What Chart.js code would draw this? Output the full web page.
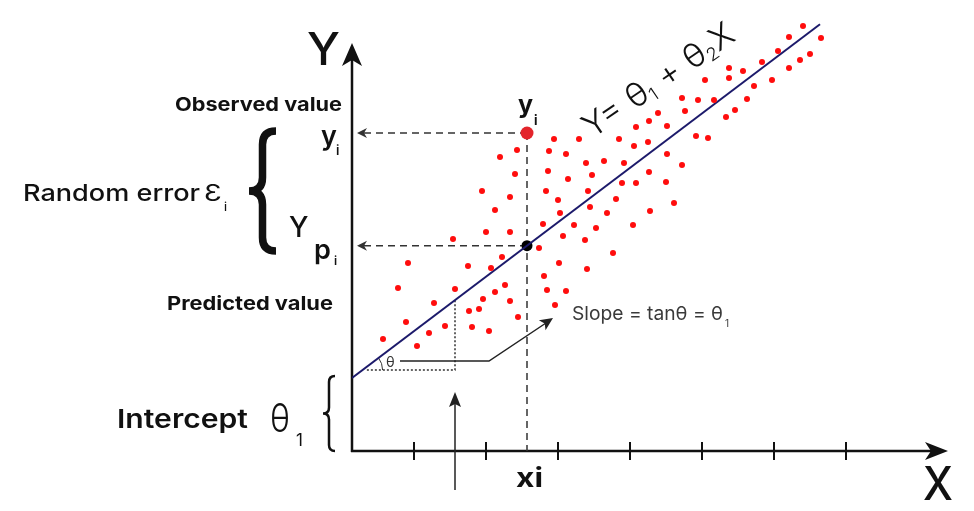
<!DOCTYPE html>
<html>
<head>
<meta charset="utf-8">
<script src="https://cdn.jsdelivr.net/npm/chart.js@4.4.0/dist/chart.umd.min.js"></script>
<style>
  html, body { margin: 0; padding: 0; background: #fff; }
  canvas { display: block; }
</style>
</head>
<body>
<canvas id="regChart" width="974" height="511"></canvas>
<script>
// scattered observations (x along the X axis, y above it, same units as the axes)
const dotX = [202, 227, 267, 284, 297, 306, 148, 165, 197, 214, 282, 296, 234, 252, 272, 163, 196, 240, 297, 216,
  270, 284, 130, 194, 236, 158, 206, 264, 143, 208, 238, 255, 298, 191, 222, 244, 281, 134, 158, 211,
  233, 101, 187, 451, 437, 469, 426, 458, 448, 410, 437, 377, 391, 377, 353, 420, 402, 330, 346, 362,
  395, 333, 383, 374, 315, 344, 356, 315, 330, 314, 322, 261, 56, 116, 139, 150, 207, 235, 46, 103,
  153, 143, 192, 195, 214, 82, 131, 158, 117, 127, 203, 166, 54, 93, 120, 137, 77, 31, 65]
const dotY = [312, 312, 312, 324, 330, 338, 294, 301, 300, 297, 305, 309, 288, 290, 288, 277, 280, 276, 279, 272,
  268, 268, 260, 260, 260, 254, 251, 252, 241, 238, 244, 238, 240, 227, 226, 223, 226, 219, 219, 215,
  211, 212, 203, 425, 414, 413, 400, 397, 391, 389, 383, 383, 380, 373, 371, 371, 365, 353, 351, 351,
  352, 340, 341, 334, 325, 315, 313, 297, 286, 269, 248, 198, 188, 185, 183, 194, 188, 182, 163, 162,
  166, 159, 175, 161, 160, 148, 152, 150, 140, 142, 146, 134, 129, 125, 124, 120, 118, 112, 105]

// fitted line Y = theta1 + theta2 * X
const theta1 = 73
const theta2 = 0.756
const lineX = [0, 468]

// highlighted observation
const xi = 175
const yObserved = 318

const xTicks = [62, 134, 206, 278, 350, 422, 494]

function predict(x) {
  return theta1 + theta2 * x
}

function put(ctx, s, x, y, font, opt) {
  opt = opt || {}
  ctx.save()
  ctx.font = font
  ctx.fillStyle = opt.color || "#111"
  ctx.textBaseline = "alphabetic"
  ctx.textAlign = "left"
  let sx = 1
  if (opt.width) sx = opt.width / ctx.measureText(s).width
  ctx.translate(x, y)
  ctx.scale(sx, 1)
  ctx.fillText(s, 0, 0)
  ctx.restore()
}

// draw several text pieces in a row (for subscripts), optionally rotated and fitted
function putRuns(ctx, parts, x, y, angle, width, color) {
  ctx.save()
  ctx.translate(x, y)
  ctx.rotate(angle)
  let total = 0
  parts.forEach((p) => {
    ctx.font = p.font
    total += ctx.measureText(p.t).width
  })
  ctx.scale(width ? width / total : 1, 1)
  ctx.fillStyle = color || "#111"
  let cx = 0
  parts.forEach((p) => {
    ctx.font = p.font
    ctx.fillText(p.t, cx, p.dy || 0)
    cx += ctx.measureText(p.t).width
  })
  ctx.restore()
}

function head(ctx, tx, ty, a, len, w, notch) {
  ctx.save()
  ctx.translate(tx, ty)
  ctx.rotate(a)
  ctx.beginPath()
  ctx.moveTo(0, 0)
  ctx.lineTo(-len, -w)
  ctx.lineTo(-len + notch, 0)
  ctx.lineTo(-len, w)
  ctx.closePath()
  ctx.fill()
  ctx.restore()
}

function brace(ctx, x0, y0, x1, y1, lw) {
  const xm = (x0 + x1) / 2
  const ym = (y0 + y1) / 2
  const r = (x1 - x0) / 2
  ctx.save()
  ctx.lineWidth = lw
  ctx.strokeStyle = "#111"
  ctx.beginPath()
  ctx.moveTo(x1, y0)
  ctx.quadraticCurveTo(xm, y0, xm, y0 + r)
  ctx.lineTo(xm, ym - r)
  ctx.quadraticCurveTo(xm, ym, x0, ym)
  ctx.quadraticCurveTo(xm, ym, xm, ym + r)
  ctx.lineTo(xm, y1 - r)
  ctx.quadraticCurveTo(xm, y1, x1, y1)
  ctx.stroke()
  ctx.restore()
}

const diagram = {
  id: "diagram",
  beforeDatasetsDraw(chart) {
    const ctx = chart.ctx
    const sx = chart.scales.x
    const sy = chart.scales.y
    const ox = sx.getPixelForValue(0)
    const oy = sy.getPixelForValue(0)
    const px = sx.getPixelForValue(xi)
    const pyObs = sy.getPixelForValue(yObserved)
    const pyPred = sy.getPixelForValue(predict(xi))

    ctx.save()
    // axes
    ctx.strokeStyle = "#111"
    ctx.fillStyle = "#111"
    ctx.lineWidth = 2.5
    ctx.beginPath()
    ctx.moveTo(ox, oy + 1)
    ctx.lineTo(ox, 55)
    ctx.moveTo(ox - 1, oy)
    ctx.lineTo(936, oy)
    ctx.stroke()
    head(ctx, ox, 43, -Math.PI / 2, 23, 10, 6)
    head(ctx, 948, oy, 0, 23, 9, 6)

    // ticks
    ctx.lineWidth = 2
    ctx.beginPath()
    xTicks.forEach((t) => {
      const x = sx.getPixelForValue(t)
      ctx.moveTo(x, oy - 9)
      ctx.lineTo(x, oy + 9)
    })
    ctx.stroke()

    // dashed guides from the observed / predicted points
    ctx.strokeStyle = "#333"
    ctx.fillStyle = "#333"
    ctx.lineWidth = 1.5
    ctx.setLineDash([7, 5])
    ctx.beginPath()
    ctx.moveTo(px, pyObs)
    ctx.lineTo(ox + 10, pyObs)
    ctx.moveTo(px, pyPred)
    ctx.lineTo(ox + 10, pyPred)
    ctx.moveTo(px, pyObs)
    ctx.lineTo(px, oy)
    ctx.stroke()
    ctx.setLineDash([])
    head(ctx, ox + 5, pyObs, Math.PI, 10, 5, 3)
    head(ctx, ox + 5, pyPred, Math.PI, 10, 5, 3)

    // slope triangle (dotted)
    const footX = sx.getPixelForValue(103)
    const footY = sy.getPixelForValue(81)
    ctx.setLineDash([2, 2])
    ctx.beginPath()
    ctx.moveTo(footX, sy.getPixelForValue(predict(103)))
    ctx.lineTo(footX, footY)
    ctx.lineTo(sx.getPixelForValue(14), footY)
    ctx.stroke()
    ctx.setLineDash([])

    // angle arc
    const vx = sx.getPixelForValue((81 - theta1) / theta2)
    ctx.lineWidth = 1
    ctx.beginPath()
    ctx.arc(vx, footY, 20, -Math.atan(theta2), 0)
    ctx.stroke()

    // connector from theta to the slope label
    ctx.strokeStyle = "#222"
    ctx.fillStyle = "#222"
    ctx.lineWidth = 1.5
    ctx.beginPath()
    ctx.moveTo(400, 361)
    ctx.lineTo(489, 361)
    ctx.lineTo(546, 323)
    ctx.stroke()
    head(ctx, 553, 318, Math.atan2(-43, 64), 13, 6, 3)

    // arrow from below the axis
    ctx.beginPath()
    ctx.moveTo(footX, 490)
    ctx.lineTo(footX, 400)
    ctx.stroke()
    head(ctx, footX, 392, -Math.PI / 2, 15, 6, 3)
    ctx.restore()
  },
  afterDatasetsDraw(chart) {
    const ctx = chart.ctx
    const F = "Inter, 'Noto Sans', sans-serif"

    put(ctx, "Y", 307, 65, "500 45px " + F, { width: 33 })
    put(ctx, "X", 923, 500, "500 46px " + F, { width: 30 })
    put(ctx, "xi", 516, 487, "700 26px " + F, { width: 27 })

    put(ctx, "Observed value", 175, 111, "700 19px " + F, { width: 167 })
    put(ctx, "Predicted value", 167, 310, "700 19px " + F, { width: 166 })

    put(ctx, "y", 321, 145, "600 27px " + F)
    put(ctx, "i", 336, 155, "600 13px " + F)

    put(ctx, "Random error", 23, 201, "500 23px " + F, { width: 177 })
    put(ctx, "\u0190", 204, 201, "400 23px " + F, { width: 18 })
    put(ctx, "i", 224, 211, "500 12px " + F)
    brace(ctx, 249, 131, 276, 251, 7.5)

    put(ctx, "Y", 289, 237, "500 28px " + F)
    put(ctx, "p", 314, 259, "600 27px " + F)
    put(ctx, "i", 334, 265, "600 12px " + F)

    put(ctx, "Intercept", 117, 428, "600 26px " + F, { width: 131 })
    put(ctx, "\u03b8", 270, 432, "300 40px " + F, { width: 20 })
    put(ctx, "1", 296, 446, "400 17px " + F)
    brace(ctx, 323, 376, 335, 451, 2.5)

    put(ctx, "y", 518, 113, "700 25px " + F)
    put(ctx, "i", 534, 125, "700 13px " + F)

    put(ctx, "Slope = tan\u03b8 = \u03b8", 572, 320, "400 19px " + F, { width: 151, color: "#3a3a3a" })
    put(ctx, "1", 725, 327, "400 10px " + F, { color: "#3a3a3a" })
    put(ctx, "\u03b8", 386, 367, "400 14px " + F, { color: "#333" })

    putRuns(ctx, [
      { t: "Y= \u03b8", font: "300 33px " + F },
      { t: "1", font: "300 18px " + F, dy: 4 },
      { t: " + \u03b8", font: "300 33px " + F },
      { t: "2", font: "300 18px " + F, dy: 4 },
      { t: "X", font: "300 33px " + F },
    ], 592, 139, -0.6, 176)
  },
}

const ctx = document.getElementById("regChart")

new Chart(ctx, {
  type: "scatter",
  data: {
    datasets: [
      {
        label: "Observations",
        data: dotX.map((x, i) => ({ x: x, y: dotY[i] })),
        pointRadius: 3,
        backgroundColor: "#ff0d0d",
        borderWidth: 0,
      },
      {
        type: "line",
        label: "Fitted line",
        data: lineX.map((x) => ({ x: x, y: predict(x) })),
        borderColor: "#1c1a6b",
        borderWidth: 2,
        pointRadius: 0,
        fill: false,
      },
      {
        label: "Observed value",
        data: [{ x: xi, y: yObserved }],
        pointRadius: 6.5,
        backgroundColor: "#e3242b",
        borderWidth: 0,
      },
      {
        label: "Predicted value",
        data: [{ x: xi, y: predict(xi) }],
        pointRadius: 5.5,
        backgroundColor: "#000",
        borderWidth: 0,
      },
    ],
  },
  options: {
    responsive: false,
    animation: false,
    devicePixelRatio: 1,
    events: [],
    layout: { padding: { left: 352, right: 26, top: 15, bottom: 60 } },
    scales: {
      x: { type: "linear", min: 0, max: 596, display: false },
      y: { type: "linear", min: 0, max: 436, display: false },
    },
    plugins: {
      legend: { display: false },
      tooltip: { enabled: false },
    },
  },
  plugins: [diagram],
})
</script>
</body>
</html>
